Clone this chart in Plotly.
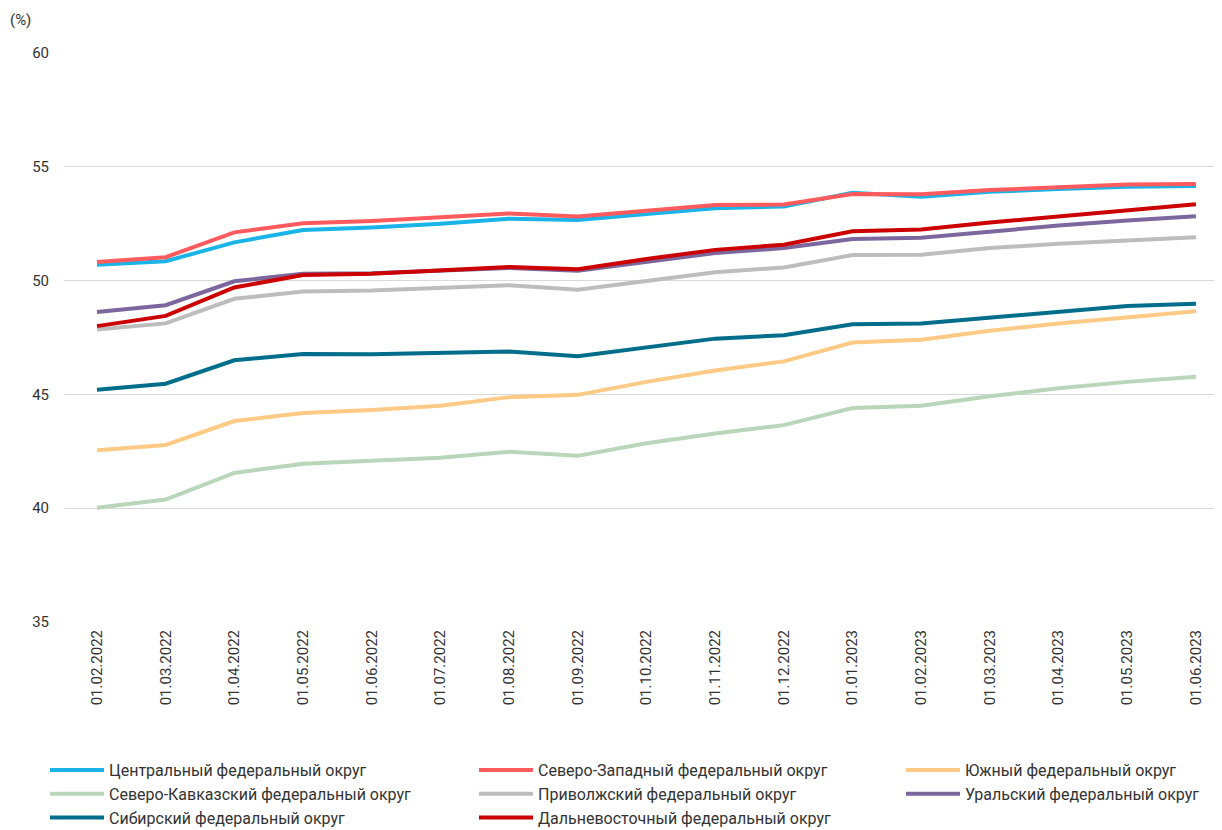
import plotly.graph_objects as go

dates = ["01.02.2022", "01.03.2022", "01.04.2022", "01.05.2022", "01.06.2022",
         "01.07.2022", "01.08.2022", "01.09.2022", "01.10.2022", "01.11.2022",
         "01.12.2022", "01.01.2023", "01.02.2023", "01.03.2023", "01.04.2023",
         "01.05.2023", "01.06.2023"]

central = [50.70, 50.85, 51.68, 52.22, 52.33, 52.50, 52.72, 52.66, 52.93, 53.18,
           53.26, 53.86, 53.68, 53.90, 54.02, 54.12, 54.16]
northwest = [50.82, 51.03, 52.12, 52.52, 52.62, 52.77, 52.95, 52.82, 53.05, 53.32,
             53.34, 53.80, 53.79, 53.98, 54.10, 54.22, 54.24]
south = [42.55, 42.78, 43.83, 44.18, 44.32, 44.50, 44.88, 44.98, 45.55, 46.05,
         46.45, 47.28, 47.40, 47.80, 48.12, 48.40, 48.65]
ncaucasus = [40.02, 40.38, 41.55, 41.95, 42.08, 42.22, 42.48, 42.30, 42.85, 43.28,
             43.65, 44.40, 44.50, 44.92, 45.27, 45.55, 45.78]
volga = [47.85, 48.12, 49.20, 49.52, 49.56, 49.66, 49.80, 49.60, 50.00, 50.37,
         50.58, 51.12, 51.14, 51.43, 51.62, 51.77, 51.90]
ural = [48.62, 48.92, 49.97, 50.30, 50.32, 50.42, 50.55, 50.43, 50.82, 51.21,
        51.43, 51.83, 51.88, 52.17, 52.42, 52.64, 52.83]
siberia = [45.20, 45.47, 46.50, 46.78, 46.76, 46.80, 46.88, 46.68, 47.08, 47.45,
           47.60, 48.08, 48.12, 48.37, 48.62, 48.88, 48.98]
fareast = [48.00, 48.45, 49.70, 50.25, 50.30, 50.45, 50.60, 50.50, 50.95, 51.35,
           51.58, 52.17, 52.25, 52.55, 52.83, 53.10, 53.35]

# (name, values, colour, legend column)
series = [
    ("Центральный федеральный округ", central, "#1AB4E8", "legend"),
    ("Северо-Западный федеральный округ", northwest, "#FF5B5F", "legend2"),
    ("Южный федеральный округ", south, "#FFCA85", "legend3"),
    ("Северо-Кавказский федеральный округ", ncaucasus, "#B8D6B9", "legend"),
    ("Приволжский федеральный округ", volga, "#BDBDBD", "legend2"),
    ("Уральский федеральный округ", ural, "#7B679E", "legend3"),
    ("Сибирский федеральный округ", siberia, "#006D8B", "legend"),
    ("Дальневосточный федеральный округ", fareast, "#CC0000", "legend2"),
]

FONT = "Roboto, Noto Sans, sans-serif"
W, H = 1214, 822  # page body has an 8px margin

fig = go.Figure()
for name, vals, color, lg in series:
    fig.add_trace(go.Scatter(x=dates, y=vals, mode="lines", name=name,
                             legend=lg, line=dict(color=color, width=4)))

def legend_at(xpx):
    return dict(orientation="v", xref="container", yref="container",
                x=xpx / W, xanchor="left", y=0.0937, yanchor="top",
                itemwidth=54, tracegroupgap=0, bgcolor="rgba(0,0,0,0)",
                font=dict(family=FONT, size=16, color="#333333"))

fig.update_layout(
    width=W, height=H,
    margin=dict(l=56, r=0, t=45, b=208, autoexpand=False),
    plot_bgcolor="white", paper_bgcolor="white",
    font=dict(family=FONT, size=15, color="#333333"),
    showlegend=True,
    legend=legend_at(37),
    legend2=legend_at(466),
    legend3=legend_at(893),
    xaxis=dict(type="category", range=[-0.48, 16.38], tickangle=-90,
               showgrid=False, zeroline=False, showline=False,
               ticks="", ticklabelstandoff=4,
               tickfont=dict(size=15, color="#333333")),
    yaxis=dict(range=[35, 60], dtick=5, showgrid=True, gridcolor="#D9D9D9",
               gridwidth=1, zeroline=False, showline=False, ticks="",
               ticklabelstandoff=14, tickfont=dict(size=15, color="#333333")),
)

fig.add_annotation(text="(%)", xref="paper", yref="paper", x=0, y=1,
                   xanchor="left", yanchor="middle", xshift=-56, yshift=33,
                   showarrow=False, font=dict(family=FONT, size=15, color="#333333"))

fig.write_html("out.html")
